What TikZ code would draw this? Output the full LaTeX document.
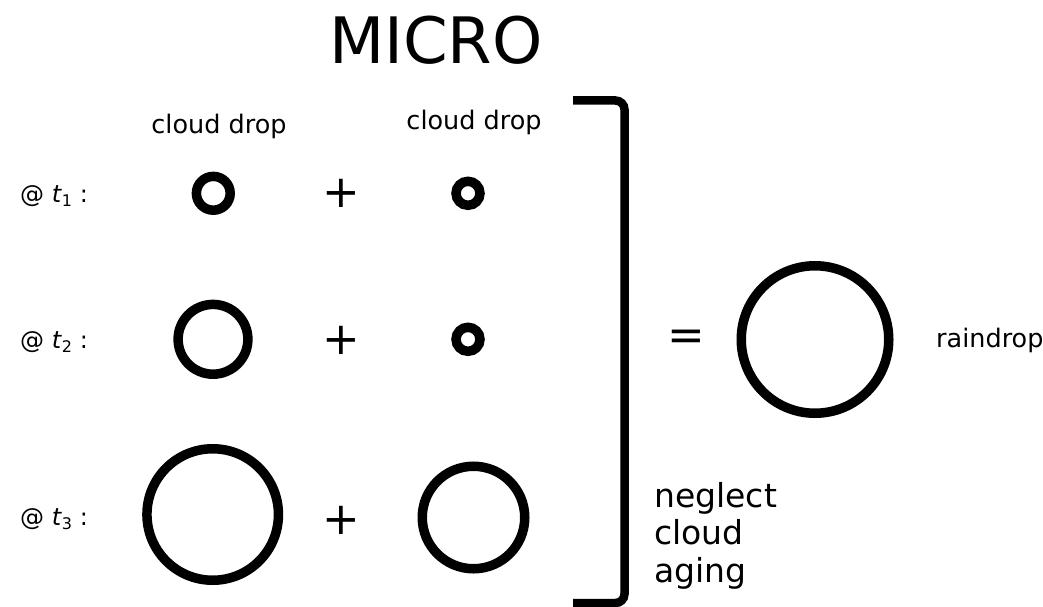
\documentclass[tikz,border=0pt]{standalone}
\usepackage{fontspec}
\setmainfont{DejaVu Sans}
\begin{document}
\begin{tikzpicture}[x=1pt,y=-1pt,
  drop/.style={circle, draw, line width=9.5pt, inner sep=0pt, outer sep=0pt},
  lbl/.style={font=\fontsize{25.5}{30}\selectfont, inner sep=0pt},
  tlbl/.style={font=\fontsize{24}{30}\selectfont, inner sep=0pt, anchor=west},
  op/.style={font=\fontsize{45}{45}\selectfont, inner sep=0pt},
  bracket/.style={line width=8.5pt, rounded corners=9pt}]
  \useasboundingbox (0,0) rectangle (1043,607);

  % heading
  \node[font=\fontsize{64}{64}\selectfont, inner sep=0pt] (title) at (436,40) {MICRO};

  % column headers
  \node[lbl, anchor=base] (hdrA) at (219,133) {cloud drop};
  \node[lbl, anchor=base] (hdrB) at (474,129) {cloud drop};

  % time labels
  \node[tlbl] (tA) at (20,196) {@ \textit{t}\raisebox{-0.35ex}{\fontsize{16}{16}\selectfont 1} :};
  \node[tlbl] (tB) at (20,342) {@ \textit{t}\raisebox{-0.35ex}{\fontsize{16}{16}\selectfont 2} :};
  \node[tlbl] (tC) at (20,519) {@ \textit{t}\raisebox{-0.35ex}{\fontsize{16}{16}\selectfont 3} :};

  % drops at t1
  \node[drop, minimum size=33.8pt] (a1) at (213.3,193.3) {};
  \node[op] (p1) at (341.5,193) {+};
  \node[drop, minimum size=24pt] (b1) at (468,193.3) {};

  % drops at t2
  \node[drop, minimum size=69.8pt] (a2) at (213,339.3) {};
  \node[op] (p2) at (341.5,340) {+};
  \node[drop, minimum size=24pt] (b2) at (468,339.3) {};

  % drops at t3
  \node[drop, minimum size=131.5pt] (a3) at (212.7,514.5) {};
  \node[op] (p3) at (341.5,520) {+};
  \node[drop, minimum size=102.5pt] (b3) at (473.5,517.5) {};

  % closing bracket
  \coordinate (brTop) at (573,100.5);
  \coordinate (brBot) at (573,603);
  \draw[bracket] (brTop) -- (624.5,100.5) -- (624.5,603) -- (brBot);

  % result
  \node[op] (eq) at (686.5,340.5) {=};
  \node[drop, minimum size=147.5pt] (rain) at (815,339.5) {};
  \node[lbl, anchor=west] (rainlbl) at (936,340) {raindrop};

  % remark
  \node[font=\fontsize{33}{37.5}\selectfont, inner sep=0pt, align=left, anchor=north west] (note) at (654,482) {neglect\\cloud\\aging};
\end{tikzpicture}
\end{document}
